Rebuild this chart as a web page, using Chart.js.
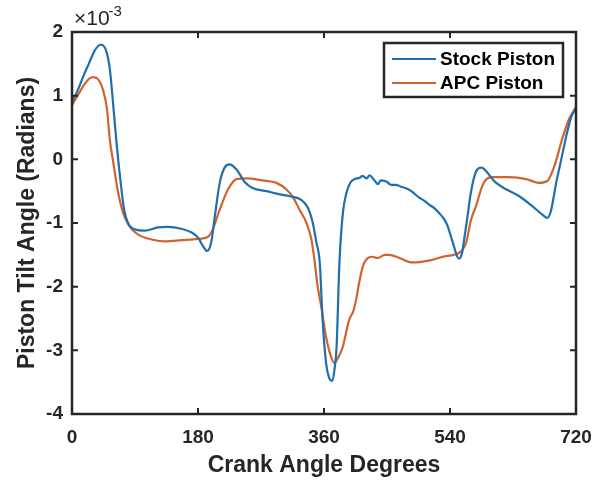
<!DOCTYPE html>
<html>
<head>
<meta charset="utf-8">
<title>Piston Tilt Angle</title>
<script src="https://cdn.jsdelivr.net/npm/chart.js@4.4.1/dist/chart.umd.min.js"></script>
<style>
  html, body { margin: 0; padding: 0; background: #ffffff; }
  #chart { display: block; }
</style>
</head>
<body>
<canvas id="chart" width="605" height="484"></canvas>
<script>
// Ângulo de inclinação do pistão (x 1e-3 rad) ao longo do ciclo de 720 graus
var stockAngle = [0, 8, 16, 24, 33, 41, 48, 54, 59, 64, 69, 74, 80, 90, 104, 123, 137, 156, 171, 180,
  187, 193, 199, 204, 211, 218, 225, 235, 247, 258, 278, 297, 311, 328, 337, 344, 349, 354, 358, 363,
  367, 372, 375, 378, 382, 387, 392, 398, 404, 411, 415, 421, 425, 432, 437, 441, 449, 456, 463, 470,
  476, 482, 487, 496, 503, 510, 518, 525, 531, 536, 541, 546, 550, 553, 557, 561, 565, 569, 574, 579,
  585, 592, 600, 606, 620, 639, 658, 672, 679, 684, 688, 692, 697, 706, 713, 720];
var stockTilt = [0.90, 1.08, 1.30, 1.50, 1.72, 1.80, 1.73, 1.42, 0.84, 0.21, -0.31, -0.76, -1.00, -1.10, -1.12, -1.07, -1.06, -1.09, -1.15, -1.23,
  -1.36, -1.44, -1.30, -0.90, -0.37, -0.13, -0.08, -0.16, -0.36, -0.45, -0.50, -0.55, -0.58, -0.64, -0.76, -1.00, -1.30, -1.63, -2.52, -3.20,
  -3.42, -3.48, -3.30, -2.94, -1.63, -0.84, -0.53, -0.36, -0.31, -0.29, -0.26, -0.30, -0.25, -0.33, -0.39, -0.33, -0.35, -0.40, -0.40, -0.43,
  -0.45, -0.48, -0.52, -0.60, -0.65, -0.71, -0.77, -0.85, -0.93, -1.03, -1.20, -1.38, -1.52, -1.56, -1.48, -1.20, -0.90, -0.58, -0.30, -0.16,
  -0.13, -0.19, -0.30, -0.37, -0.47, -0.58, -0.74, -0.87, -0.92, -0.82, -0.60, -0.35, -0.10, 0.36, 0.66, 0.80];

var apcAngle = [0, 9, 18, 25, 30, 37, 44, 50, 54, 59, 65, 73, 82, 94, 114, 133, 157, 180, 194, 201,
  211, 223, 235, 249, 272, 292, 306, 316, 325, 335, 342, 346, 351, 356, 363, 370, 375, 380, 387, 391,
  396, 402, 406, 410, 415, 420, 428, 437, 447, 453, 468, 486, 510, 534, 553, 563, 570, 577, 586, 592,
  601, 624, 649, 667, 679, 689, 700, 710, 720];
var apcTilt = [0.85, 1.02, 1.18, 1.27, 1.29, 1.26, 1.10, 0.79, 0.31, -0.05, -0.47, -0.84, -1.05, -1.18, -1.26, -1.29, -1.27, -1.25, -1.22, -1.10,
  -0.79, -0.47, -0.31, -0.30, -0.33, -0.37, -0.47, -0.60, -0.79, -1.00, -1.26, -1.55, -2.00, -2.31, -2.79, -3.10, -3.20, -3.12, -2.94, -2.75,
  -2.52, -2.38, -2.20, -1.95, -1.70, -1.58, -1.53, -1.55, -1.50, -1.50, -1.55, -1.62, -1.59, -1.52, -1.47, -1.31, -0.95, -0.74, -0.42, -0.31,
  -0.28, -0.28, -0.31, -0.37, -0.34, -0.11, 0.31, 0.63, 0.82];

var xTicks = [0, 180, 360, 540, 720];
var yTicks = [-4, -3, -2, -1, 0, 1, 2];

var FONT = '"Liberation Sans", Arial, Helvetica, sans-serif';
var AXIS_COLOR = '#262626';

function toPoints(xs, ys) {
  return xs.map(function(x, i) { return { x: x, y: ys[i] }; });
}

// Caixa dos eixos, marcas internas, expoente e legenda
var axesBox = {
  id: 'axesBox',
  afterDatasetsDraw: function(chart) {
    var ctx = chart.ctx;
    var a = chart.chartArea;
    var xs = chart.scales.x, ys = chart.scales.y;
    var tick = 6;
    ctx.save();
    ctx.strokeStyle = AXIS_COLOR;
    ctx.lineWidth = 2.5;
    ctx.strokeRect(a.left, a.top, a.right - a.left, a.bottom - a.top);
    ctx.lineWidth = 2;
    ctx.beginPath();
    xTicks.forEach(function(v) {
      var px = xs.getPixelForValue(v);
      ctx.moveTo(px, a.bottom); ctx.lineTo(px, a.bottom - tick);
      ctx.moveTo(px, a.top); ctx.lineTo(px, a.top + tick);
    });
    yTicks.forEach(function(v) {
      var py = ys.getPixelForValue(v);
      ctx.moveTo(a.left, py); ctx.lineTo(a.left + tick, py);
      ctx.moveTo(a.right, py); ctx.lineTo(a.right - tick, py);
    });
    ctx.stroke();

    // multiplicador x10^-3
    ctx.fillStyle = AXIS_COLOR;
    ctx.textBaseline = 'alphabetic';
    ctx.textAlign = 'left';
    ctx.font = '21px ' + FONT;
    ctx.fillText('\u00d710', a.left + 2, a.top - 7);
    var w = ctx.measureText('\u00d710').width;
    ctx.font = '15px ' + FONT;
    ctx.fillText('-3', a.left + 1 + w, a.top - 16);

    // legenda
    var lx = 384, ly = 43, lw = 179, lh = 54;
    ctx.fillStyle = '#ffffff';
    ctx.fillRect(lx, ly, lw, lh);
    ctx.strokeStyle = AXIS_COLOR;
    ctx.lineWidth = 2.5;
    ctx.strokeRect(lx, ly, lw, lh);
    ctx.font = 'bold 19px ' + FONT;
    ctx.textBaseline = 'middle';
    chart.data.datasets.forEach(function(ds, i) {
      var yy = ly + 16 + i * 24;
      ctx.strokeStyle = ds.borderColor;
      ctx.lineWidth = 2;
      ctx.beginPath();
      ctx.moveTo(lx + 8, yy); ctx.lineTo(lx + 52, yy);
      ctx.stroke();
      ctx.fillStyle = '#000000';
      ctx.fillText(ds.label, lx + 56, yy + 1);
    });
    ctx.restore();
  }
};

var chart = new Chart(document.getElementById('chart').getContext('2d'), {
  type: 'line',
  data: {
    datasets: [{
      label: 'Stock Piston',
      data: toPoints(stockAngle, stockTilt),
      borderColor: '#1f6fae',
      borderWidth: 2.2,
      pointRadius: 0,
      cubicInterpolationMode: 'monotone',
      fill: false
    }, {
      label: 'APC Piston',
      data: toPoints(apcAngle, apcTilt),
      borderColor: '#d0642f',
      borderWidth: 2.2,
      pointRadius: 0,
      cubicInterpolationMode: 'monotone',
      fill: false
    }]
  },
  options: {
    responsive: false,
    animation: false,
    layout: { padding: { top: 32, right: 29, left: 0, bottom: 0 } },
    plugins: {
      legend: { display: false },
      tooltip: { enabled: false }
    },
    scales: {
      x: {
        type: 'linear',
        min: 0,
        max: 720,
        afterFit: function(scale) { scale.height = 70; },
        afterBuildTicks: function(scale) {
          scale.ticks = xTicks.map(function(v) { return { value: v }; });
        },
        grid: { display: false, drawTicks: false },
        border: { display: false },
        ticks: {
          color: AXIS_COLOR,
          padding: 12,
          maxRotation: 0,
          font: { family: FONT, size: 19, weight: 'bold' }
        },
        title: {
          display: true,
          text: 'Crank Angle Degrees',
          color: '#262626',
          padding: { top: 0, bottom: 5 },
          font: { family: FONT, size: 23, weight: 'bold' }
        }
      },
      y: {
        min: -4,
        max: 2,
        afterFit: function(scale) { scale.width = 72; },
        afterBuildTicks: function(scale) {
          scale.ticks = yTicks.map(function(v) { return { value: v }; });
        },
        grid: { display: false, drawTicks: false },
        border: { display: false },
        ticks: {
          color: AXIS_COLOR,
          padding: 9,
          font: { family: FONT, size: 19, weight: 'bold' }
        },
        title: {
          display: true,
          text: 'Piston Tilt Angle (Radians)',
          color: '#262626',
          padding: { top: 14, bottom: 0 },
          font: { family: FONT, size: 23, weight: 'bold' }
        }
      }
    }
  },
  plugins: [axesBox]
});
</script>
</body>
</html>
